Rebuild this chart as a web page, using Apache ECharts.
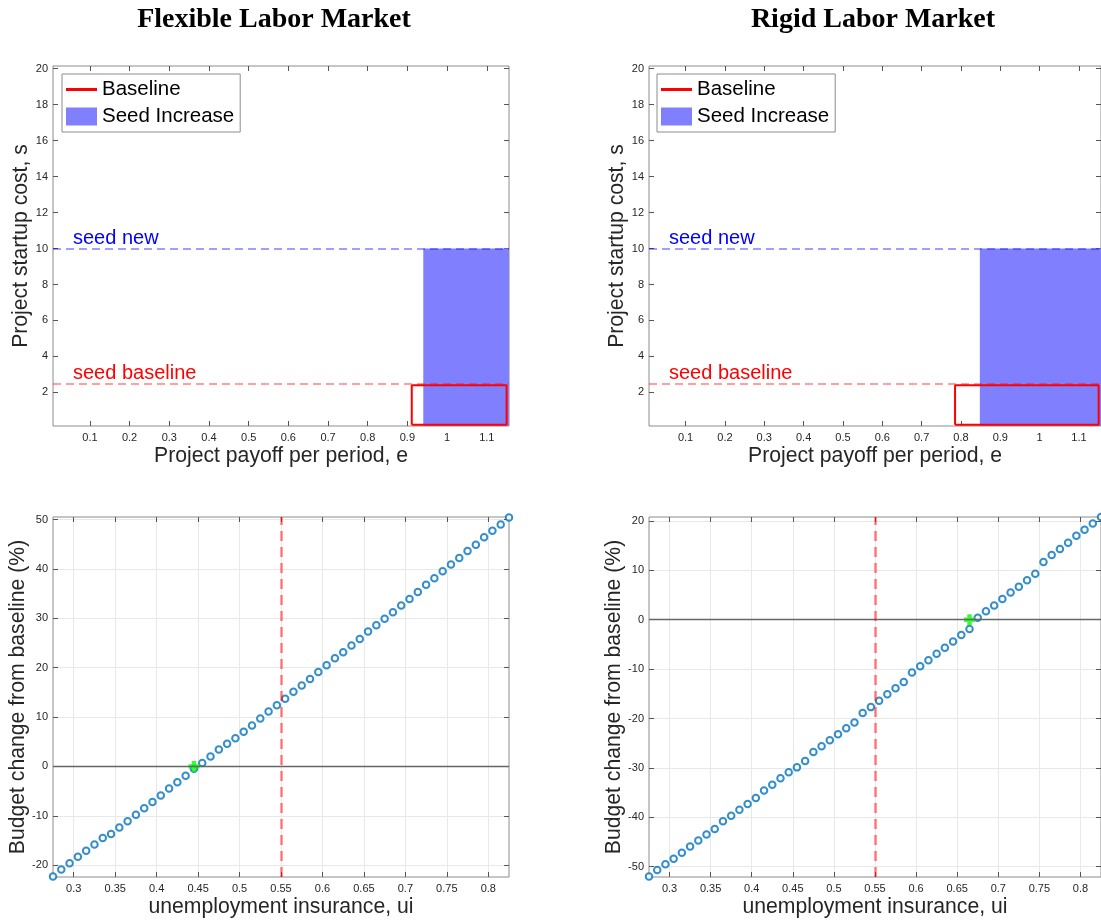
<!DOCTYPE html>
<html>
<head>
<meta charset="utf-8">
<script src="https://cdn.jsdelivr.net/npm/echarts@6/dist/echarts.min.js"></script>
<style>
  body { margin: 0; background: #fff; }
  #main { width: 1101px; height: 924px; }
</style>
</head>
<body>
<div id="main"></div>
<script>
// top panels: project payoff e vs startup cost s
const eTicks = [0.1, 0.2, 0.3, 0.4, 0.5, 0.6, 0.7, 0.8, 0.9, 1, 1.1]
const sTicks = [2, 4, 6, 8, 10, 12, 14, 16, 18, 20]
const eRange = [0.007, 1.156]
const sRange = [0.13, 20.15]
const seedBaseline = 2.5
const seedNew = 10
// baseline region (red box) and seed increase region (blue fill)
const flexBaseE = [0.911, 1.15]
const flexBaseS = [0.2, 2.4]
const flexSeedE = 0.94
const rigidBaseE = [0.785, 1.15]
const rigidBaseS = [0.2, 2.4]
const rigidSeedE = 0.848

// bottom panels: unemployment insurance vs budget change
const uiTicks = [0.3, 0.35, 0.4, 0.45, 0.5, 0.55, 0.6, 0.65, 0.7, 0.75, 0.8]
const uiRange = [0.275, 0.825]
const ui = [0.275, 0.285, 0.295, 0.305, 0.315, 0.325, 0.335, 0.345, 0.355, 0.365,
  0.375, 0.385, 0.395, 0.405, 0.415, 0.425, 0.435, 0.445, 0.455, 0.465,
  0.475, 0.485, 0.495, 0.505, 0.515, 0.525, 0.535, 0.545, 0.555, 0.565,
  0.575, 0.585, 0.595, 0.605, 0.615, 0.625, 0.635, 0.645, 0.655, 0.665,
  0.675, 0.685, 0.695, 0.705, 0.715, 0.725, 0.735, 0.745, 0.755, 0.765,
  0.775, 0.785, 0.795, 0.805, 0.815, 0.825]
const flexBudget = [-22.3, -20.9, -19.6, -18.3, -17.1, -15.8, -14.5, -13.7, -12.4, -11.1,
  -9.8, -8.5, -7.2, -5.9, -4.5, -3.2, -1.9, -0.5, 0.7, 2.0,
  3.4, 4.6, 5.7, 7.0, 8.3, 9.7, 11.1, 12.4, 13.7, 15.1,
  16.4, 17.7, 19.1, 20.5, 21.9, 23.1, 24.5, 25.8, 27.3, 28.6,
  29.9, 31.2, 32.6, 33.9, 35.3, 36.8, 38.1, 39.5, 40.9, 42.2,
  43.6, 44.9, 46.4, 47.7, 49.0, 50.4]
const rigidBudget = [-52.0, -50.7, -49.5, -48.4, -47.2, -45.9, -44.7, -43.5, -42.4, -40.8,
  -39.7, -38.5, -37.3, -36.1, -34.6, -33.4, -32.1, -30.9, -29.9, -28.6,
  -26.8, -25.6, -24.4, -23.2, -22.0, -20.8, -18.9, -17.7, -16.4, -15.1,
  -13.9, -12.6, -10.7, -9.4, -8.2, -6.9, -5.7, -4.4, -3.1, -1.9,
  0.4, 1.7, 2.9, 4.2, 5.5, 6.7, 8.0, 9.3, 11.7, 13.1,
  14.3, 15.6, 17.0, 18.2, 19.5, 20.8]
const flexBudgetTicks = [-20, -10, 0, 10, 20, 30, 40, 50]
const flexBudgetRange = [-22.4, 50.5]
const rigidBudgetTicks = [-50, -40, -30, -20, -10, 0, 10, 20]
const rigidBudgetRange = [-52.1, 20.8]
const uiBaseline = 0.552
const flexCross = [0.445, 0]
const rigidCross = [0.665, 0]

const FONT = 'Liberation Sans'
const tickColor = '#555'
const labelColor = '#262626'

var myChart = echarts.init(document.getElementById('main'))

var grids = [
  { left: 53, top: 66, width: 456, height: 360 },
  { left: 649, top: 66, width: 456, height: 360 },
  { left: 53, top: 517, width: 456, height: 360 },
  { left: 649, top: 517, width: 456, height: 360 }
].map(g => Object.assign(g, { show: true, borderColor: '#8c8c8c', borderWidth: 1, containLabel: false }))

var xAxes = []
var yAxes = []

function addAxes (gi, xr, yr, xt, yt, xName, yName, yNameGap, withGrid) {
  var tick = { inside: true, length: 5, lineStyle: { color: tickColor, width: 1 } }
  var split = { show: withGrid, lineStyle: { color: '#e8e8e8', width: 1 } }
  var nameStyle = { fontFamily: FONT, fontSize: 21.2, color: labelColor }
  var noLine = { show: false, onZero: false }
  xAxes.push({
    type: 'value', gridIndex: gi, position: 'bottom', min: xr[0], max: xr[1],
    axisLine: noLine,
    axisTick: Object.assign({ customValues: xt }, tick),
    axisLabel: { customValues: xt, fontFamily: FONT, fontSize: 11, color: labelColor, margin: 6 },
    splitLine: Object.assign({ customValues: xt }, split),
    name: xName, nameLocation: 'middle', nameGap: 20, nameTextStyle: nameStyle
  })
  xAxes.push({
    type: 'value', gridIndex: gi, position: 'top', min: xr[0], max: xr[1],
    axisLine: noLine,
    axisTick: Object.assign({ customValues: xt }, tick),
    axisLabel: { show: false },
    splitLine: { show: false }
  })
  yAxes.push({
    type: 'value', gridIndex: gi, position: 'left', min: yr[0], max: yr[1],
    axisLine: noLine,
    axisTick: Object.assign({ customValues: yt }, tick),
    axisLabel: { customValues: yt, fontFamily: FONT, fontSize: 11, color: labelColor, margin: 5 },
    splitLine: Object.assign({ customValues: yt }, split),
    name: yName, nameLocation: 'middle', nameGap: yNameGap, nameTextStyle: nameStyle
  })
  yAxes.push({
    type: 'value', gridIndex: gi, position: 'right', min: yr[0], max: yr[1],
    axisLine: noLine,
    axisTick: Object.assign({ customValues: yt }, tick),
    axisLabel: { show: false },
    splitLine: { show: false }
  })
}

addAxes(0, eRange, sRange, eTicks, sTicks, 'Project payoff per period, e', 'Project startup cost, s', 20, false)
addAxes(1, eRange, sRange, eTicks, sTicks, 'Project payoff per period, e', 'Project startup cost, s', 20, false)
addAxes(2, uiRange, flexBudgetRange, uiTicks, flexBudgetTicks, 'unemployment insurance, ui', 'Budget change from baseline (%)', 24, true)
addAxes(3, uiRange, rigidBudgetRange, uiTicks, rigidBudgetTicks, 'unemployment insurance, ui', 'Budget change from baseline (%)', 24, true)

function rect (ex, sy) {
  return [[ex[0], sy[0]], [ex[1], sy[0]], [ex[1], sy[1]], [ex[0], sy[1]], [ex[0], sy[0]]]
}

function hLine (gi, y, text, color, lineColor) {
  return {
    type: 'line', xAxisIndex: gi * 2, yAxisIndex: gi * 2, data: [], silent: true, z: 5,
    markLine: {
      silent: true, symbol: 'none', animation: false,
      lineStyle: { color: lineColor, type: [8, 5], width: 1.5 },
      label: { show: true, position: 'insideStartTop', formatter: text, color: color, fontFamily: FONT, fontSize: 20, distance: [20, 0] },
      data: [{ yAxis: y }]
    }
  }
}

function topSeries (gi, seedE, baseE, baseS) {
  return [
    {
      name: 'Seed Increase', type: 'line', xAxisIndex: gi * 2, yAxisIndex: gi * 2,
      data: [[seedE, seedNew], [eRange[1], seedNew]],
      symbol: 'none', lineStyle: { width: 0 }, color: '#8080ff',
      areaStyle: { color: '#8080ff', opacity: 1 }, z: 1
    },
    {
      name: 'Baseline', type: 'line', xAxisIndex: gi * 2, yAxisIndex: gi * 2,
      data: rect(baseE, baseS), symbol: 'none', color: '#ff0000',
      lineStyle: { color: '#ff0000', width: 2 }, z: 3
    },
    hLine(gi, seedNew, 'seed new', '#0000ff', 'rgba(0,0,255,0.5)'),
    hLine(gi, seedBaseline, 'seed baseline', '#ff0000', 'rgba(255,0,0,0.5)')
  ]
}

function bottomSeries (gi, values, cross) {
  return [
    {
      type: 'line', xAxisIndex: gi * 2, yAxisIndex: gi * 2, data: [], silent: true, z: 2,
      markLine: {
        silent: true, symbol: 'none', animation: false, label: { show: false },
        lineStyle: { color: '#666', type: 'solid', width: 1.4 },
        data: [{ yAxis: 0 }]
      }
    },
    {
      type: 'line', xAxisIndex: gi * 2, yAxisIndex: gi * 2, data: [], silent: true, z: 2,
      markLine: {
        silent: true, symbol: 'none', animation: false, label: { show: false },
        lineStyle: { color: 'rgba(255,0,0,0.5)', type: [10, 6], width: 2.5 },
        data: [{ xAxis: uiBaseline }]
      }
    },
    {
      type: 'scatter', xAxisIndex: gi * 2, yAxisIndex: gi * 2, z: 3,
      data: ui.map((u, i) => [u, values[i]]),
      symbol: 'emptyCircle', symbolSize: 6.5,
      itemStyle: { color: '#0072bd', borderColor: '#0072bd', borderWidth: 1.9 }
    },
    {
      type: 'scatter', xAxisIndex: gi * 2, yAxisIndex: gi * 2, z: 4,
      data: [cross],
      symbol: 'path://M3,0H7V3H10V7H7V10H3V7H0V3H3Z', symbolSize: 11,
      itemStyle: { color: '#00ff00' }
    }
  ]
}

function legendAt (left) {
  return {
    orient: 'vertical', left: left, top: 74, itemWidth: 31, itemHeight: 18, itemGap: 6,
    padding: [5, 6, 5, 4], borderColor: '#8c8c8c', borderWidth: 1, backgroundColor: '#fff',
    selectedMode: false,
    textStyle: { fontFamily: FONT, fontSize: 20.5, color: '#000' },
    data: [
      { name: 'Baseline', icon: 'path://M0,0H31V3H0Z', itemStyle: { color: '#ff0000', borderWidth: 0 } },
      { name: 'Seed Increase', icon: 'rect', itemStyle: { color: '#8080ff', borderWidth: 0 } }
    ]
  }
}

var titleStyle = { fontFamily: 'Liberation Serif', fontWeight: 'bold', fontSize: 28, color: '#000' }

var option = {
  animation: false,
  title: [
    { text: 'Flexible Labor Market', left: 269, top: 1, textAlign: 'center', textStyle: titleStyle },
    { text: 'Rigid Labor Market', left: 868, top: 1, textAlign: 'center', textStyle: titleStyle }
  ],
  legend: [legendAt(62), legendAt(657)],
  grid: grids,
  xAxis: xAxes,
  yAxis: yAxes,
  series: [].concat(
    topSeries(0, flexSeedE, flexBaseE, flexBaseS),
    topSeries(1, rigidSeedE, rigidBaseE, rigidBaseS),
    bottomSeries(2, flexBudget, flexCross),
    bottomSeries(3, rigidBudget, rigidCross)
  )
}

option && myChart.setOption(option)
</script>
</body>
</html>
